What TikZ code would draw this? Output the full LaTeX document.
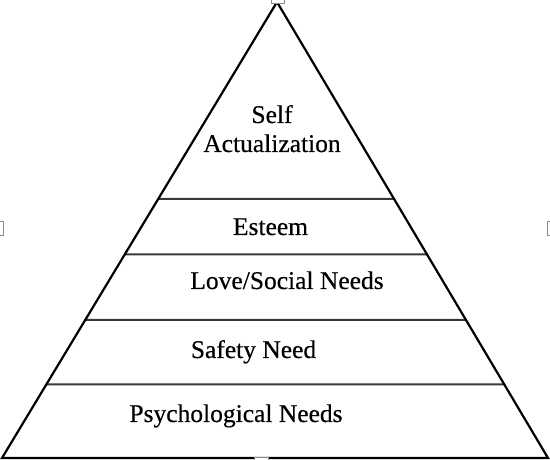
\documentclass[tikz,border=0pt]{standalone}
\usepackage{fontspec}
\setmainfont{Liberation Serif}[FakeBold=0.4]
\begin{document}
\begin{tikzpicture}[x=1pt,y=1pt,
  outline/.style={draw=black,line width=2.2pt,line join=miter},
  tier/.style={draw=black!78,line width=2pt},
  lbl/.style={anchor=base,inner sep=0pt,font=\fontsize{25.5}{30}\selectfont},
  handle/.style={draw=black!45,fill=white,line width=0.8pt}]
\useasboundingbox (0,0) rectangle (550,460);
\coordinate (L) at (2,2);
\coordinate (R) at (548,2);
\coordinate (A) at (277,458);
% tier dividers
\foreach \y/\n in {261/a,205.5/b,140/c,75.5/d}{
  \coordinate (\n l) at (intersection of L--A and 0,\y--550,\y);
  \coordinate (\n r) at (intersection of R--A and 0,\y--550,\y);
  \draw[tier] (\n l) -- (\n r);
}
\draw[outline] (L) -- (A) -- (R) -- cycle;
% labels
\node[lbl] (self) at (272,337) {Self};
\node[lbl] (act) at (272,308) {Actualization};
\node[lbl] (est) at (270.5,225) {Esteem};
\node[lbl] (love) at (287,171) {Love/Social Needs};
\node[lbl] (safe) at (253.5,102) {Safety Need};
\node[lbl] (psy) at (236,38) {Psychological Needs};
% selection handles
\draw[handle] (-3,225) rectangle (3,239);
\draw[handle] (547,225) rectangle (553,239);
\draw[handle] (271,457) rectangle (284,463);
\draw[handle] (254,-3) rectangle (268,3);
\end{tikzpicture}
\end{document}
